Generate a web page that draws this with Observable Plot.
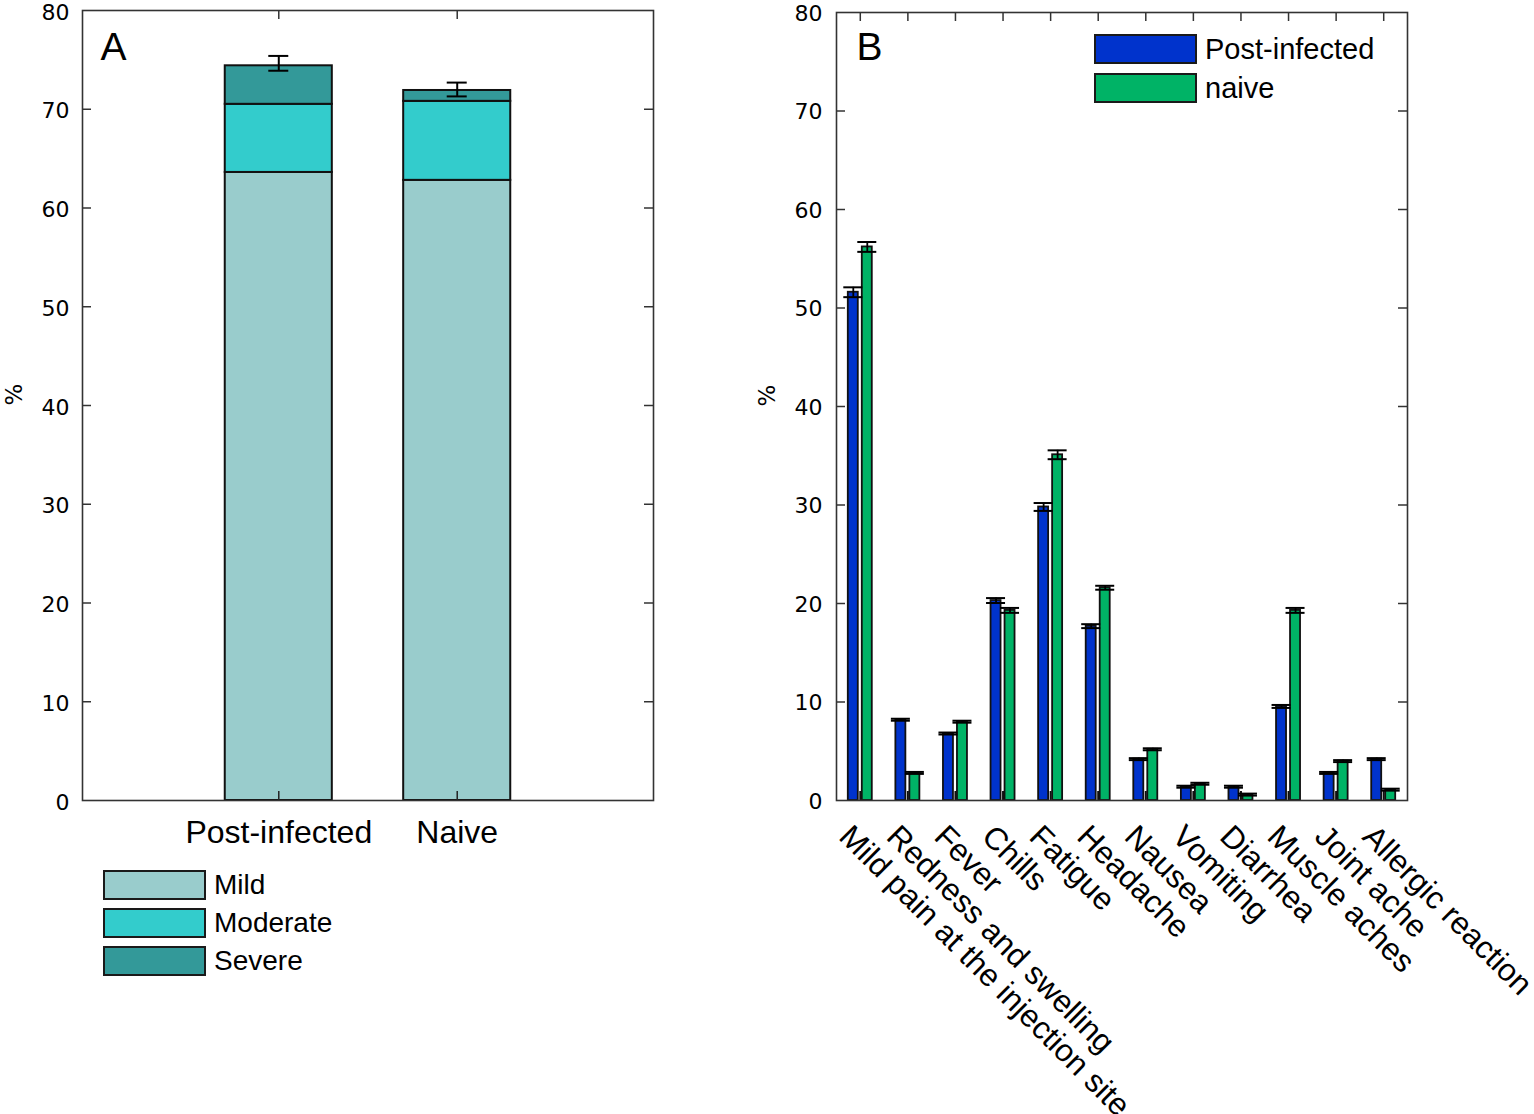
<!DOCTYPE html>
<html><head><meta charset="utf-8">
<script src="https://cdn.jsdelivr.net/npm/d3@7"></script>
<script src="https://cdn.jsdelivr.net/npm/@observablehq/plot@0.6"></script>
<style>
body{margin:0;background:#fff;}
#wrap{position:relative;width:1534px;height:1114px;overflow:hidden;background:#fff;font-family:"Liberation Sans",Arial,sans-serif;color:#000;}
.plot{position:absolute;}
.leg{position:absolute;}
.item{position:absolute;left:0;height:29px;}
.sw{position:absolute;left:0;top:0;box-sizing:border-box;width:103px;height:30px;border:2px solid #1a1a1a;}
.lab{position:absolute;top:50%;transform:translateY(-50%);white-space:nowrap;line-height:1;}
</style></head><body><div id="wrap"></div>
<script>
// ---------- Panel A data ----------
const groupsA = ["Post-infected", "Naive"];
const severityLevels = ["Mild", "Moderate", "Severe"];
const mildA = [63.6, 62.8];
const moderateA = [6.9, 8.0];
const severeA = [3.9, 1.1];
const errLowA = [73.9, 71.3];
const errHighA = [75.4, 72.7];
const severityColors = ["#99cccc", "#33cccc", "#339999"];

// ---------- Panel B data ----------
const symptoms = ["Mild pain at the injection site", "Redness and swelling", "Fever", "Chills", "Fatigue", "Headache", "Nausea", "Vomiting", "Diarrhea", "Muscle aches", "Joint ache", "Allergic reaction"];
const seriesB = ["Post-infected", "naive"];
const postInfected = [51.6, 8.2, 6.8, 20.3, 29.8, 17.7, 4.2, 1.4, 1.4, 9.55, 2.8, 4.2];
const naive = [56.2, 2.8, 8.0, 19.3, 35.1, 21.6, 5.2, 1.7, 0.6, 19.3, 4.0, 1.1];
const postErr = [0.5, 0.1, 0.1, 0.25, 0.4, 0.2, 0.1, 0.1, 0.1, 0.15, 0.1, 0.1];
const naiveErr = [0.5, 0.1, 0.1, 0.25, 0.45, 0.2, 0.1, 0.1, 0.1, 0.25, 0.1, 0.1];
const seriesColors = ["#0033cc", "#00b366"];

const yTicks = [0, 10, 20, 30, 40, 50, 60, 70, 80];
const innerTicks = [10, 20, 30, 40, 50, 60, 70];

const wrap = document.getElementById("wrap");
const tickFont = "DejaVu Sans, Verdana, sans-serif";
const labelFont = "Liberation Sans, Arial, sans-serif";

// ---------- Panel A ----------
const rowsA = [];
groupsA.forEach((g, i) => {
  rowsA.push({group: g, level: "Mild", value: mildA[i]});
  rowsA.push({group: g, level: "Moderate", value: moderateA[i]});
  rowsA.push({group: g, level: "Severe", value: severeA[i]});
});
const errA = groupsA.map((g, i) => ({group: g, lo: errLowA[i], hi: errHighA[i]}));

const shift = 20;
const aW = 700, aH = 870 + shift, aML = 82, aMR = 47, aMT = 10 + shift, aMB = 70;
const aFW = aW - aML - aMR, aFH = aH - aMT - aMB;
const aBand = aFW / (2 - 0.4 + 2 * 0.8) * (1 - 0.4);

const plotA = Plot.plot({
  width: aW, height: aH,
  marginLeft: aML, marginRight: aMR, marginTop: aMT, marginBottom: aMB,
  style: {fontFamily: labelFont, background: "white", color: "black", overflow: "visible"},
  x: {type: "band", domain: groupsA, paddingInner: 0.4, paddingOuter: 0.8, round: false},
  y: {domain: [0, 80]},
  color: {domain: severityLevels, range: severityColors},
  marks: [
    Plot.barY(rowsA, {x: "group", y: "value", fill: "level", stroke: "#111", strokeWidth: 2}),
    Plot.tickX(groupsA, {x: d => d, stroke: "#222", strokeWidth: 1.5, insetTop: aFH - 9}),
    Plot.tickX(groupsA, {x: d => d, stroke: "#333", strokeWidth: 1.5, insetBottom: aFH - 9}),
    Plot.tickY(innerTicks, {y: d => d, stroke: "#333", strokeWidth: 1.5, insetRight: aFW - 9}),
    Plot.tickY(innerTicks, {y: d => d, stroke: "#333", strokeWidth: 1.5, insetLeft: aFW - 9}),
    Plot.frame({stroke: "#333", strokeWidth: 1.6}),
    Plot.ruleX(errA, {x: "group", y1: "lo", y2: "hi", stroke: "#000", strokeWidth: 2}),
    Plot.tickY(errA, {x: "group", y: "lo", stroke: "#000", strokeWidth: 2, insetLeft: (aBand - 20) / 2, insetRight: (aBand - 20) / 2}),
    Plot.tickY(errA, {x: "group", y: "hi", stroke: "#000", strokeWidth: 2, insetLeft: (aBand - 20) / 2, insetRight: (aBand - 20) / 2}),
    Plot.axisY(yTicks, {tickSize: 0, tickPadding: 13, dy: 2, fontSize: 22, fontFamily: tickFont, label: null}),
    Plot.axisX({tickSize: 0, tickPadding: 20, fontSize: 32, fontFamily: labelFont, label: null}),
    Plot.text(["%"], {frameAnchor: "left", dx: -68, rotate: -90, fontSize: 23, fontFamily: tickFont}),
    Plot.text(["A"], {frameAnchor: "top-left", dx: 18, dy: 22, fontSize: 39, textAnchor: "start", lineAnchor: "top", fontFamily: labelFont})
  ]
});
plotA.classList.add("plot");
plotA.style.left = "0px";
plotA.style.top = (-shift) + "px";
wrap.appendChild(plotA);

// ---------- Panel B ----------
const rowsB = symptoms.map((s, i) => ({symptom: s, post: postInfected[i], naive: naive[i],
  postLo: postInfected[i] - postErr[i], postHi: postInfected[i] + postErr[i],
  naiveLo: naive[i] - naiveErr[i], naiveHi: naive[i] + naiveErr[i]}));

const bW = 774, bH = 1114 + shift, bML = 76, bMR = 127, bMT = 12 + shift, bMB = 314;
const bFW = bW - bML - bMR, bFH = bH - bMT - bMB;
const half = bFW / symptoms.length / 2;

const plotB = Plot.plot({
  width: bW, height: bH,
  marginLeft: bML, marginRight: bMR, marginTop: bMT, marginBottom: bMB,
  style: {fontFamily: labelFont, background: "white", color: "black", overflow: "visible"},
  x: {type: "band", domain: symptoms, padding: 0, round: false, axis: null},
  y: {domain: [0, 80]},
  marks: [
    Plot.barY(rowsB, {x: "symptom", y: "post", fill: seriesColors[0], stroke: "#111", strokeWidth: 1.8, insetLeft: half - 12, insetRight: half + 2}),
    Plot.barY(rowsB, {x: "symptom", y: "naive", fill: seriesColors[1], stroke: "#111", strokeWidth: 1.8, insetLeft: half + 2, insetRight: half - 12}),
    Plot.tickX(symptoms, {x: d => d, stroke: "#111", strokeWidth: 2, insetTop: bFH - 9}),
    Plot.tickX(symptoms, {x: d => d, stroke: "#333", strokeWidth: 1.5, insetBottom: bFH - 9}),
    Plot.tickY(innerTicks, {y: d => d, stroke: "#333", strokeWidth: 1.5, insetRight: bFW - 9}),
    Plot.tickY(innerTicks, {y: d => d, stroke: "#333", strokeWidth: 1.5, insetLeft: bFW - 9}),
    Plot.frame({stroke: "#333", strokeWidth: 1.6}),
    Plot.ruleX(rowsB, {x: "symptom", y1: "postLo", y2: "postHi", dx: -7, stroke: "#000", strokeWidth: 1.8}),
    Plot.ruleX(rowsB, {x: "symptom", y1: "naiveLo", y2: "naiveHi", dx: 7, stroke: "#000", strokeWidth: 1.8}),
    Plot.tickY(rowsB, {x: "symptom", y: "postLo", stroke: "#000", strokeWidth: 2, insetLeft: half - 16.5, insetRight: half - 2.5}),
    Plot.tickY(rowsB, {x: "symptom", y: "postHi", stroke: "#000", strokeWidth: 2, insetLeft: half - 16.5, insetRight: half - 2.5}),
    Plot.tickY(rowsB, {x: "symptom", y: "naiveLo", stroke: "#000", strokeWidth: 2, insetLeft: half - 2.5, insetRight: half - 16.5}),
    Plot.tickY(rowsB, {x: "symptom", y: "naiveHi", stroke: "#000", strokeWidth: 2, insetLeft: half - 2.5, insetRight: half - 16.5}),
    Plot.axisY(yTicks, {tickSize: 0, tickPadding: 14, dy: 1, fontSize: 22, fontFamily: tickFont, label: null}),
    Plot.text(symptoms, {x: d => d, frameAnchor: "bottom", rotate: 45, textAnchor: "start", lineAnchor: "top", dx: -7, dy: 22, fontSize: 31.5, fontFamily: labelFont}),
    Plot.text(["%"], {frameAnchor: "left", dx: -69, rotate: -90, fontSize: 23, fontFamily: tickFont}),
    Plot.text(["B"], {frameAnchor: "top-left", dx: 20, dy: 20, fontSize: 39, textAnchor: "start", lineAnchor: "top", fontFamily: labelFont})
  ]
});
plotB.classList.add("plot");
plotB.style.left = "760px";
plotB.style.top = (-shift) + "px";
wrap.appendChild(plotB);

// ---------- Legends ----------
function legend(items, colors, left, top, step, fontSize) {
  const leg = document.createElement("div");
  leg.className = "leg";
  leg.style.left = left + "px";
  leg.style.top = top + "px";
  items.forEach((name, i) => {
    const it = document.createElement("div");
    it.className = "item";
    it.style.top = (i * step) + "px";
    const sw = document.createElement("div");
    sw.className = "sw";
    sw.style.background = colors[i];
    const lab = document.createElement("div");
    lab.className = "lab";
    lab.style.left = "111px";
    lab.style.fontSize = fontSize + "px";
    lab.textContent = name;
    it.appendChild(sw);
    it.appendChild(lab);
    leg.appendChild(it);
  });
  wrap.appendChild(leg);
}
legend(severityLevels, severityColors, 103, 870, 38, 28);
legend(seriesB, seriesColors, 1094, 34, 39, 29);
</script></body></html>
